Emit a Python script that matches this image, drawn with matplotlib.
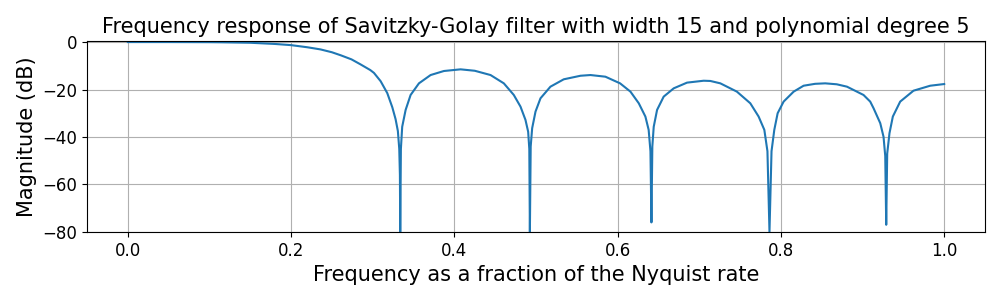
import numpy as np
import matplotlib.pyplot as plt

# frequency (fraction of Nyquist) and magnitude (dB)
freq = [0.0, 0.05, 0.10, 0.114, 0.15, 0.18, 0.20, 0.22, 0.236, 0.25, 0.261, 0.274,
        0.285, 0.297, 0.3015, 0.3097, 0.3178, 0.324, 0.328, 0.3308, 0.3325, 0.3333, 0.3337,
        0.3345, 0.3361, 0.3403, 0.3464, 0.3566, 0.3709, 0.3872, 0.4076, 0.425, 0.4443,
        0.4606, 0.4728, 0.481, 0.4871, 0.4904, 0.4918, 0.4925,
        0.4935, 0.4953, 0.4994, 0.5055, 0.5177, 0.534, 0.5545, 0.5667, 0.585, 0.603,
        0.6157, 0.6259, 0.634, 0.638, 0.6402, 0.6414,
        0.6425, 0.6442, 0.6483, 0.6564, 0.6687, 0.685, 0.7054, 0.7136, 0.7258, 0.7461,
        0.7625, 0.7727, 0.7797, 0.7835, 0.786,
        0.7885, 0.7919, 0.796, 0.8033, 0.8156, 0.8278, 0.8419, 0.8543, 0.8684, 0.8809,
        0.9012, 0.9094, 0.9135, 0.9217, 0.9257, 0.9278, 0.929,
        0.9302, 0.933, 0.9371, 0.9461, 0.9624, 0.9829, 1.0]
mag_db = [0.0, 0.0, -0.05, -0.1, -0.3, -0.8, -1.3, -2.2, -3.1, -4.3, -5.6, -7.3,
          -9.4, -11.8, -13.0, -16.5, -21.5, -27.5, -32.5, -37.5, -45.0, -56.0, -80.0,
          -45.0, -35.7, -28.6, -22.3, -17.4, -13.9, -12.2, -11.5, -12.1, -13.9,
          -17.4, -22.3, -27.2, -32.8, -37.8, -45.0, -80.0,
          -44.0, -36.3, -29.3, -23.7, -18.8, -15.7, -14.2, -13.9, -14.6, -17.4,
          -20.9, -25.8, -31.4, -37.0, -46.0, -76.0,
          -44.0, -35.7, -28.6, -23.0, -19.5, -17.1, -16.3, -16.4, -17.4, -20.9,
          -25.8, -31.4, -37.0, -46.0, -80.0,
          -46.0, -37.0, -30.0, -25.1, -20.9, -18.4, -17.6, -17.4, -17.8, -18.8,
          -22.3, -25.1, -27.9, -34.2, -39.9, -48.0, -77.0,
          -47.0, -38.4, -31.4, -25.1, -20.5, -18.4, -17.7]

fig, ax = plt.subplots(figsize=(10, 3), dpi=100)
fig.subplots_adjust(left=0.087, right=0.985, top=0.863, bottom=0.227)

ax.plot(freq, mag_db)
ax.set_ylim(-80, 0.4)
ax.grid()
ax.set_title("Frequency response of Savitzky-Golay filter with width 15 and polynomial degree 5", fontsize=15)
ax.set_xlabel("Frequency as a fraction of the Nyquist rate", fontsize=15)
ax.set_ylabel("Magnitude (dB)", fontsize=15)
ax.tick_params(labelsize=12)

fig.savefig("out.png")
